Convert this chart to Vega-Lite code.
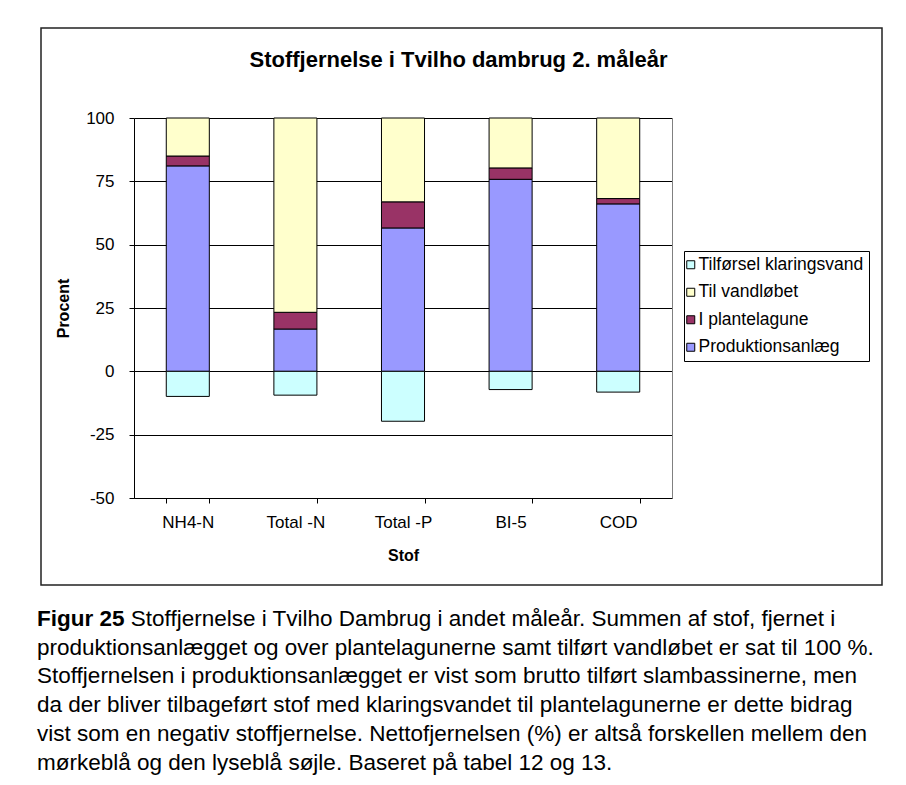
{
  "$schema": "https://vega.github.io/schema/vega-lite/v6.json",
  "padding": {"left": 37, "top": 27, "right": 0, "bottom": 0},
  "background": "white",
  "title": {
    "text": "Figur 25",
    "subtitle": [
      "\u200d\u00a0\u00a0\u00a0\u00a0\u00a0\u00a0\u00a0\u00a0\u00a0\u00a0\u00a0\u00a0\u00a0\u00a0\u00a0Stoffjernelse i Tvilho Dambrug i andet måleår. Summen af stof, fjernet i",
      "produktionsanlægget og over plantelagunerne samt tilført vandløbet er sat til 100 %.",
      "Stoffjernelsen i produktionsanlægget er vist som brutto tilført slambassinerne, men",
      "da der bliver tilbageført stof med klaringsvandet til plantelagunerne er dette bidrag",
      "vist som en negativ stoffjernelse. Nettofjernelsen (%) er altså forskellen mellem den",
      "mørkeblå og den lyseblå søjle. Baseret på tabel 12 og 13."
    ],
    "orient": "bottom",
    "anchor": "start",
    "frame": "group",
    "offset": 22,
    "dx": -4,
    "font": "Liberation Sans",
    "fontSize": 22.5,
    "fontWeight": "bold",
    "color": "black",
    "subtitleFont": "Liberation Sans",
    "subtitleFontSize": 22.5,
    "subtitleFontWeight": "normal",
    "subtitleColor": "black",
    "subtitleLineHeight": 28.8,
    "subtitlePadding": -22.5
  },
  "datasets": {
    "rows": [
      {"stof": "NH4-N", "serie": "Produktionsanlæg", "value": 81.1},
      {"stof": "NH4-N", "serie": "I plantelagune", "value": 3.9},
      {"stof": "NH4-N", "serie": "Til vandløbet", "value": 15.0},
      {"stof": "NH4-N", "serie": "Tilførsel klaringsvand", "value": -9.9},
      {"stof": "Total -N", "serie": "Produktionsanlæg", "value": 16.7},
      {"stof": "Total -N", "serie": "I plantelagune", "value": 6.6},
      {"stof": "Total -N", "serie": "Til vandløbet", "value": 76.7},
      {"stof": "Total -N", "serie": "Tilførsel klaringsvand", "value": -9.4},
      {"stof": "Total -P", "serie": "Produktionsanlæg", "value": 56.6},
      {"stof": "Total -P", "serie": "I plantelagune", "value": 10.3},
      {"stof": "Total -P", "serie": "Til vandløbet", "value": 33.1},
      {"stof": "Total -P", "serie": "Tilførsel klaringsvand", "value": -19.7},
      {"stof": "BI-5", "serie": "Produktionsanlæg", "value": 75.8},
      {"stof": "BI-5", "serie": "I plantelagune", "value": 4.5},
      {"stof": "BI-5", "serie": "Til vandløbet", "value": 19.7},
      {"stof": "BI-5", "serie": "Tilførsel klaringsvand", "value": -7.2},
      {"stof": "COD", "serie": "Produktionsanlæg", "value": 66.1},
      {"stof": "COD", "serie": "I plantelagune", "value": 2.1},
      {"stof": "COD", "serie": "Til vandløbet", "value": 31.8},
      {"stof": "COD", "serie": "Tilførsel klaringsvand", "value": -8.2}
    ]
  },
  "vconcat": [
    {
      "title": {
        "text": "Stoffjernelse i Tvilho dambrug 2. måleår",
        "anchor": "middle",
        "frame": "group",
        "offset": -44,
        "dx": -3,
        "font": "Liberation Sans",
        "fontSize": 22,
        "fontWeight": "bold",
        "color": "black"
      },
      "width": 841,
      "height": 557,
      "data": {"name": "rows"},
      "transform": [
        {"calculate": "indexof(['Produktionsanlæg','I plantelagune','Til vandløbet','Tilførsel klaringsvand'], datum.serie)", "as": "stackorder"}
      ],
      "encoding": {
        "x": {
          "field": "stof",
          "type": "nominal",
          "sort": null,
          "scale": {
            "domain": ["NH4-N", "Total -N", "Total -P", "BI-5", "COD"],
            "range": [93, 631],
            "paddingInner": 0.6,
            "paddingOuter": 0.3
          },
          "axis": {
            "title": "Stof",
            "orient": "bottom",
            "offset": -87,
            "labelAngle": 0,
            "tickBand": "extent",
            "tickSize": 5,
            "labelPadding": 11,
            "titlePadding": 17,
            "labelFontSize": 17,
            "titleFontSize": 16,
            "titleFontWeight": "bold",
            "grid": false
          }
        }
      },
      "layer": [
        {
          "mark": {"type": "bar", "stroke": "black", "strokeWidth": 1},
          "encoding": {
            "y": {
              "field": "value",
              "type": "quantitative",
              "stack": "zero",
              "scale": {"domain": [-50, 100], "range": [470, 90], "nice": false, "zero": false},
              "axis": {
                "title": "Procent",
                "orient": "left",
                "offset": -93,
                "values": [-50, -25, 0, 25, 50, 75, 100],
                "labelExpr": "replace(datum.label, '\u2212', '-')",
                "grid": true,
                "gridColor": "black",
                "gridOpacity": 1,
                "tickSize": 5,
                "labelPadding": 15,
                "titlePadding": 14,
                "labelFontSize": 17,
                "titleFontSize": 16,
                "titleFontWeight": "bold"
              }
            },
            "color": {
              "field": "serie",
              "type": "nominal",
              "scale": {
                "domain": ["Tilførsel klaringsvand", "Til vandløbet", "I plantelagune", "Produktionsanlæg"],
                "range": ["#CCFFFF", "#FFFFCC", "#993366", "#9999FF"]
              },
              "legend": {
                "title": null,
                "orient": "none",
                "legendX": 643,
                "legendY": 223,
                "strokeColor": "black",
                "fillColor": "white",
                "padding": 5,
                "symbolType": "square",
                "symbolSize": 64,
                "symbolOffset": -7,
                "symbolStrokeColor": "black",
                "symbolStrokeWidth": 1,
                "symbolOpacity": 1,
                "labelFontSize": 17.5,
                "labelColor": "black",
                "labelOffset": -1,
                "labelLimit": 400,
                "rowPadding": 8.5
              }
            },
            "order": {"field": "stackorder", "type": "quantitative", "sort": "ascending"}
          }
        },
        {
          "mark": {"type": "point", "opacity": 0},
          "encoding": {
            "y": {
              "field": "value",
              "type": "quantitative",
              "scale": {"domain": [-50, 100], "range": [470, 90], "nice": false, "zero": false},
              "axis": {
                "orient": "right",
                "offset": -210,
                "labels": false,
                "ticks": false,
                "grid": false,
                "title": null,
                "domainColor": "#808080"
              }
            }
          }
        }
      ],
      "resolve": {"axis": {"y": "independent"}}
    }
  ],
  "config": {
    "font": "Liberation Sans",
    "view": {"stroke": "#222222", "strokeWidth": 1.5},
    "axis": {
      "labelColor": "black",
      "titleColor": "black",
      "domainColor": "black",
      "tickColor": "black",
      "labelFont": "Liberation Sans",
      "titleFont": "Liberation Sans"
    },
    "legend": {"labelFont": "Liberation Sans"}
  }
}
